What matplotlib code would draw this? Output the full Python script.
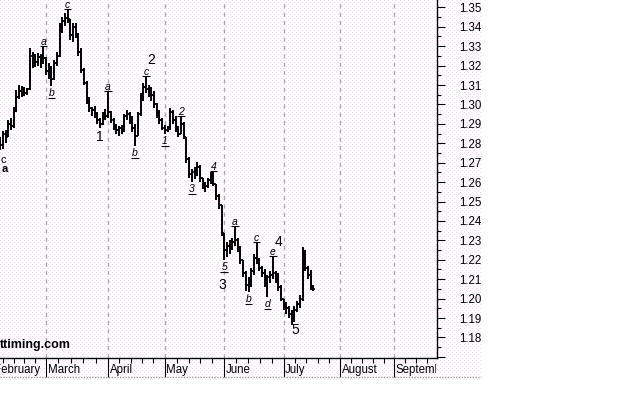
import numpy as np
import matplotlib.pyplot as plt
from matplotlib.patches import Rectangle
from matplotlib.lines import Line2D
from matplotlib.ticker import FixedLocator, FuncFormatter
from matplotlib.transforms import offset_copy, blended_transform_factory

plt.rcParams['font.family'] = ['Liberation Sans', 'DejaVu Sans']

# daily bars, 3 Feb 2005 .. 18 Jul 2005 (trading days)
highs = [1.2860, 1.2830, 1.2865, 1.2870, 1.2920, 1.2930, 1.2985, 1.3075, 1.3100, 1.3095,
         1.3090, 1.3085, 1.3290, 1.3270, 1.3260, 1.3265, 1.3260, 1.3296, 1.3245, 1.3215,
         1.3200, 1.3230, 1.3270, 1.3420, 1.3450, 1.3470, 1.3487, 1.3440, 1.3420, 1.3420,
         1.3370, 1.3290, 1.3190, 1.3120, 1.3040, 1.2985, 1.2990, 1.2960, 1.2930, 1.2960,
         1.2975, 1.3064, 1.2965, 1.2930, 1.2900, 1.2890, 1.2895, 1.2950, 1.2970, 1.2960,
         1.2940, 1.2900, 1.2960, 1.3060, 1.3110, 1.3141, 1.3100, 1.3090, 1.3070, 1.3010,
         1.2970, 1.2930, 1.2895, 1.2890, 1.2980, 1.2970, 1.2940, 1.2890, 1.2935, 1.2910,
         1.2830, 1.2730, 1.2665, 1.2680, 1.2703, 1.2690, 1.2620, 1.2600, 1.2620, 1.2650,
         1.2652, 1.2590, 1.2540, 1.2480, 1.2340, 1.2290, 1.2300, 1.2310, 1.2368, 1.2310,
         1.2270, 1.2200, 1.2140, 1.2110, 1.2160, 1.2230, 1.2285, 1.2210, 1.2170, 1.2150,
         1.2120, 1.2140, 1.2212, 1.2140, 1.2130, 1.2070, 1.2000, 1.1980, 1.1960, 1.1940,
         1.1960, 1.1990, 1.2018, 1.2265, 1.2250, 1.2170, 1.2147, 1.2070]
lows = [1.2790, 1.2765, 1.2770, 1.2800, 1.2830, 1.2870, 1.2880, 1.2960, 1.3030, 1.3040,
        1.3045, 1.3050, 1.3075, 1.3190, 1.3195, 1.3200, 1.3190, 1.3210, 1.3150, 1.3130,
        1.3095, 1.3125, 1.3200, 1.3245, 1.3370, 1.3405, 1.3420, 1.3330, 1.3320, 1.3340,
        1.3250, 1.3160, 1.3100, 1.3000, 1.2960, 1.2940, 1.2930, 1.2900, 1.2880, 1.2895,
        1.2920, 1.2930, 1.2905, 1.2870, 1.2850, 1.2840, 1.2850, 1.2860, 1.2920, 1.2900,
        1.2860, 1.2785, 1.2840, 1.2940, 1.3020, 1.3060, 1.3040, 1.3020, 1.2980, 1.2930,
        1.2900, 1.2870, 1.2850, 1.2860, 1.2870, 1.2900, 1.2860, 1.2830, 1.2850, 1.2820,
        1.2700, 1.2620, 1.2600, 1.2615, 1.2630, 1.2600, 1.2565, 1.2550, 1.2570, 1.2590,
        1.2580, 1.2510, 1.2460, 1.2320, 1.2200, 1.2215, 1.2230, 1.2250, 1.2270, 1.2240,
        1.2180, 1.2110, 1.2040, 1.2033, 1.2060, 1.2120, 1.2180, 1.2140, 1.2110, 1.2060,
        1.2008, 1.2080, 1.2100, 1.2080, 1.2040, 1.1990, 1.1940, 1.1920, 1.1900, 1.1864,
        1.1880, 1.1930, 1.1950, 1.1990, 1.2140, 1.2100, 1.2043, 1.2040]
closes = [1.2800, 1.2790, 1.2850, 1.2830, 1.2900, 1.2890, 1.2970, 1.3040, 1.3070, 1.3085,
          1.3060, 1.3080, 1.3250, 1.3230, 1.3220, 1.3245, 1.3225, 1.3240, 1.3170, 1.3190,
          1.3130, 1.3215, 1.3250, 1.3400, 1.3430, 1.3445, 1.3440, 1.3360, 1.3400, 1.3350,
          1.3270, 1.3180, 1.3110, 1.3020, 1.2980, 1.2970, 1.2950, 1.2920, 1.2900, 1.2950,
          1.2940, 1.2960, 1.2920, 1.2890, 1.2870, 1.2880, 1.2870, 1.2940, 1.2950, 1.2920,
          1.2880, 1.2840, 1.2950, 1.3040, 1.3090, 1.3080, 1.3070, 1.3050, 1.3000, 1.2950,
          1.2920, 1.2880, 1.2870, 1.2880, 1.2960, 1.2920, 1.2880, 1.2850, 1.2900, 1.2830,
          1.2720, 1.2640, 1.2650, 1.2660, 1.2680, 1.2620, 1.2590, 1.2580, 1.2610, 1.2630,
          1.2590, 1.2530, 1.2480, 1.2340, 1.2250, 1.2270, 1.2260, 1.2290, 1.2300, 1.2260,
          1.2200, 1.2130, 1.2070, 1.2100, 1.2140, 1.2210, 1.2200, 1.2160, 1.2130, 1.2100,
          1.2110, 1.2120, 1.2130, 1.2100, 1.2060, 1.2000, 1.1960, 1.1950, 1.1920, 1.1900,
          1.1940, 1.1970, 1.2000, 1.2230, 1.2160, 1.2120, 1.2060, 1.2050]

month_names = ['February', 'March', 'April', 'May', 'June', 'July', 'August', 'September']
month_starts = [-2, 18, 41, 62, 84, 106, 127, 147]   # bar index of 1st trading day

# small underlined wave labels sitting on a bar high ('top') or low ('bot')
wave_labels = ['a', 'b', 'c', 'a', 'b', 'c', '1', '2', '3', '4', '5', 'a', 'b', 'c', 'd', 'e']
wave_bars = [17, 20, 26, 41, 51, 55, 62, 68, 72, 80, 84, 88, 93, 96, 100, 102]
wave_sides = ['top', 'bot', 'top', 'top', 'bot', 'top', 'bot', 'top', 'bot', 'top',
              'bot', 'top', 'bot', 'top', 'bot', 'top']

# big wave counts
big_labels = ['1', '2', '3', '4', '5']
big_x = [38.0, 56.9, 83.2, 104.0, 110.2]
big_y = [1.2832, 1.3229, 1.2070, 1.2292, 1.1838]

fig = plt.figure(figsize=(6.4, 4.0), dpi=100)

# dotted chart background
bg = np.full((377, 481, 3), 255, dtype=np.uint8)
rr, cc = np.mgrid[0:377, 0:481]
dots = ((rr % 4 == 0) & (cc % 4 == 0)) | ((rr % 4 == 2) & (cc % 4 == 2))
bg[dots] = (244, 226, 240)
fig.figimage(bg, xo=0, yo=23, zorder=-1)
fig.add_artist(Line2D([0, 481 / 640], [23 / 400, 23 / 400], color='#9a9a9a', lw=1.0,
                      ls=(0, (1, 1)), transform=fig.transFigure))

ax = fig.add_axes([0, 42 / 400, 437 / 640, 358 / 400])
ax.set_facecolor('none')

x = np.arange(len(closes))
opens = np.r_[closes[0], closes[:-1]]
ax.vlines(x, lows, highs, color='black', lw=1.4)
ax.hlines(closes, x, x + 0.6, color='black', lw=1.2)
ax.hlines(opens, x - 0.6, x, color='black', lw=1.2)

ax.set_xlim(0.963, 162.8)
ax.set_ylim(1.1694, 1.3538)

for m in month_starts:
    ax.axvline(m, color='#a8a8a8', lw=1.0, ls=(0, (3, 3)), zorder=0)

# wave labels
for txt, b, side in zip(wave_labels, wave_bars, wave_sides):
    if side == 'top':
        y0 = highs[b]
        t_ul = offset_copy(ax.transData, fig=fig, x=0, y=1, units='dots')
        t_tx = offset_copy(ax.transData, fig=fig, x=0, y=0, units='dots')
        ax.hlines(y0, b - 1.4, b + 1.4, color='black', lw=0.8, transform=t_ul)
        ax.text(b, y0, txt, transform=t_tx, ha='center', va='bottom', fontsize=7.5,
                style='italic')
    else:
        y0 = lows[b]
        t_ul = offset_copy(ax.transData, fig=fig, x=0, y=-12, units='dots')
        t_tx = offset_copy(ax.transData, fig=fig, x=0, y=-2, units='dots')
        ax.hlines(y0, b - 1.4, b + 1.4, color='black', lw=0.8, transform=t_ul)
        ax.text(b, y0, txt, transform=t_tx, ha='center', va='top', fontsize=7.5,
                style='italic')

for txt, bx, by in zip(big_labels, big_x, big_y):
    ax.text(bx, by, txt, ha='center', va='center', fontsize=10)

ax.text(2.07, 1.2714, 'c', ha='center', va='center', fontsize=8)
ax.text(2.8, 1.2668, 'a', ha='center', va='center', fontsize=8, fontweight='bold')

# axes / ticks
for s in ['left', 'top']:
    ax.spines[s].set_visible(False)
ax.spines['right'].set_linewidth(1.0)
ax.spines['bottom'].set_linewidth(1.0)

ax.yaxis.tick_right()
ax.yaxis.set_major_locator(FixedLocator(np.round(np.arange(1.17, 1.355, 0.01), 2)))
ax.yaxis.set_minor_locator(FixedLocator(np.round(np.arange(1.175, 1.355, 0.01), 3)))
ax.yaxis.set_major_formatter(FuncFormatter(lambda v, p: '' if v < 1.175 else '%.2f' % v))
ax.tick_params(axis='y', which='major', length=6, width=0.8, pad=10, labelsize=8.3)
ax.tick_params(axis='y', which='minor', length=3, width=0.8)

minor_x = []
for k in range(len(month_starts)):
    if k + 1 < len(month_starts):
        step = (month_starts[k + 1] - month_starts[k]) / 5
    minor_x += [month_starts[k] + step * j for j in range(1, 5)]
ax.xaxis.set_major_locator(FixedLocator(month_starts))
ax.xaxis.set_minor_locator(FixedLocator(minor_x))
ax.xaxis.set_major_formatter(FuncFormatter(lambda v, p: ''))
ax.tick_params(axis='x', which='major', length=14, width=0.8)
ax.tick_params(axis='x', which='minor', length=3.5, width=0.8)

clip = Rectangle((0, 0), 436 / 640, 1, transform=fig.transFigure)
tr = blended_transform_factory(ax.transData, ax.transAxes)
for name, m in zip(month_names, month_starts):
    t = ax.text(m + 0.6, -0.034, name, transform=tr, ha='left', va='center',
                fontsize=8.3, clip_on=True)
    t.set_clip_path(clip)

fig.text(0.0, (400 - 345) / 400, 'ttiming.com', fontsize=9, fontweight='bold',
         ha='left', va='center')

fig.savefig('out.png', dpi=100)
